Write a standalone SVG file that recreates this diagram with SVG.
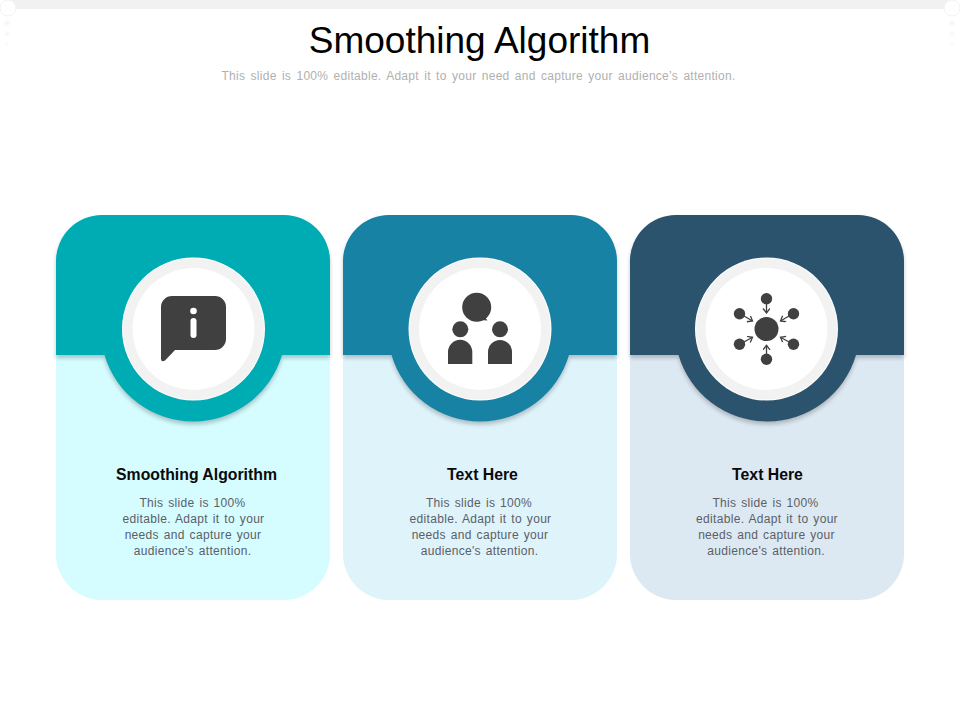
<svg xmlns="http://www.w3.org/2000/svg" width="960" height="720" viewBox="0 0 960 720">
<style>
text{font-family:"Liberation Sans",Arial,sans-serif;text-anchor:middle}
.h{font-size:15.8px;font-weight:700;fill:#0a0a0a}
.b{font-size:12px;fill:#5a6068;word-spacing:1.2px;letter-spacing:.32px}
.ic{fill:#404040}
.ln{fill:none;stroke:#404040;stroke-width:1.3}
.ring{fill:#f2f2f2}
.in{fill:#fff}
.dot{fill:#f5f5f5}
</style>
<defs>
<filter id="sh" x="-20%" y="-20%" width="140%" height="140%"><feGaussianBlur stdDeviation="2"/></filter>
<filter id="soft" x="-50%" y="-50%" width="200%" height="200%"><feGaussianBlur stdDeviation="1"/></filter>
<marker id="ah" markerWidth="7" markerHeight="8" refX="5.500" refY="3.500" orient="auto" markerUnits="userSpaceOnUse"><path d="M1 0 L5.500 3.500 L1 7" fill="none" stroke="#404040" stroke-width="1.300"/></marker>
</defs>
<rect width="960" height="720" fill="#fff"/>
<g id="frame">
<rect x="5" y="0" width="950" height="9" fill="#f1f1f1"/>
<circle cx="8" cy="8" r="8" fill="#fff" stroke="#f3f3f3" stroke-width="1"/>
<circle cx="952" cy="8" r="8" fill="#fff" stroke="#f3f3f3" stroke-width="1"/>
<g filter="url(#soft)">
<circle class="dot" cx="7" cy="23" r="2.500"/><circle class="dot" cx="7" cy="34" r="2"/><circle class="dot" cx="7" cy="44" r="1.500"/>
<circle class="dot" cx="952" cy="23" r="2.500"/><circle class="dot" cx="952" cy="34" r="2"/><circle class="dot" cx="952" cy="44" r="1.500"/>
</g>
</g>
<g id="title">
<text x="479.500" y="53" font-size="37" fill="#000">Smoothing Algorithm</text>
<text x="478.500" y="80" font-size="12" fill="#b0b0b0" word-spacing="1.7" letter-spacing=".28">This slide is 100% editable. Adapt it to your need and capture your audience’s attention.</text>
</g>
<g id="card1">
<rect x="56" y="215" width="274" height="385" rx="46" fill="#d5fcff"/>
<path d="M56 355V261a46 46 0 0 1 46-46H284a46 46 0 0 1 46 46V355H282a92.500 92.500 0 0 1-177.500 0Z" fill="#000" opacity=".22" filter="url(#sh)" transform="translate(0 3)"/>
<path d="M56 355V261a46 46 0 0 1 46-46H284a46 46 0 0 1 46 46V355H282a92.500 92.500 0 0 1-177.500 0Z" fill="#00acb4"/>
<circle class="in" cx="193.500" cy="329" r="71.500"/><circle class="ring" cx="193.500" cy="329" r="70.500"/><circle class="in" cx="193.500" cy="329" r="61"/>
<path class="ic" d="M172 296H215a11 11 0 0 1 11 11V339a11 11 0 0 1-11 11H175L165 360.500Q161 363 161 358V307a11 11 0 0 1 11-11Z"/>
<circle cx="193.500" cy="311" r="3.300" fill="#fff"/>
<rect x="190.500" y="318" width="6" height="20" rx="3" fill="#fff"/>
<text class="h" x="196.500" y="479.500">Smoothing Algorithm</text>
<text class="b" x="192.500" y="507">This slide is 100%</text>
<text class="b" x="193.500" y="523">editable. Adapt it to your</text>
<text class="b" x="193" y="539">needs and capture your</text>
<text class="b" x="192.500" y="555">audience's attention.</text>
</g>
<g id="card2">
<rect x="343" y="215" width="274" height="385" rx="46" fill="#dff3fb"/>
<path d="M343 355V261a46 46 0 0 1 46-46H571a46 46 0 0 1 46 46V355H569a92.500 92.500 0 0 1-177.500 0Z" fill="#000" opacity=".22" filter="url(#sh)" transform="translate(0 3)"/>
<path d="M343 355V261a46 46 0 0 1 46-46H571a46 46 0 0 1 46 46V355H569a92.500 92.500 0 0 1-177.500 0Z" fill="#1782a4"/>
<circle class="in" cx="480" cy="329" r="71.500"/><circle class="ring" cx="480" cy="329" r="70.500"/><circle class="in" cx="480" cy="329" r="61"/>
<circle class="ic" cx="476.700" cy="307.300" r="14.500"/><path class="ic" d="M480 320L487.500 320.500L484 316Z"/>
<circle class="ic" cx="460.300" cy="329.300" r="8"/><circle class="ic" cx="500" cy="329.300" r="8"/>
<path class="ic" d="M448 364V352a12 12 0 0 1 24.300 0V364Z"/><path class="ic" d="M488 364V352a12 12 0 0 1 24 0V364Z"/>
<text class="h" x="482.500" y="479.500">Text Here</text>
<text class="b" x="479" y="507">This slide is 100%</text>
<text class="b" x="480.500" y="523">editable. Adapt it to your</text>
<text class="b" x="480" y="539">needs and capture your</text>
<text class="b" x="479.500" y="555">audience's attention.</text>
</g>
<g id="card3">
<rect x="630" y="215" width="274" height="385" rx="46" fill="#dde9f2"/>
<path d="M630 355V261a46 46 0 0 1 46-46H858a46 46 0 0 1 46 46V355H856a92.500 92.500 0 0 1-177.500 0Z" fill="#000" opacity=".22" filter="url(#sh)" transform="translate(0 3)"/>
<path d="M630 355V261a46 46 0 0 1 46-46H858a46 46 0 0 1 46 46V355H856a92.500 92.500 0 0 1-177.500 0Z" fill="#2b536d"/>
<circle class="in" cx="766.500" cy="329" r="71.500"/><circle class="ring" cx="766.500" cy="329" r="70.500"/><circle class="in" cx="766.500" cy="329" r="61"/>
<circle class="ic" cx="766.500" cy="329" r="12"/>
<circle class="ic" cx="766.500" cy="298.700" r="5.700"/><circle class="ic" cx="739.500" cy="313.700" r="5.700"/><circle class="ic" cx="793.500" cy="313.700" r="5.700"/><circle class="ic" cx="739.500" cy="344.300" r="5.700"/><circle class="ic" cx="793.500" cy="344.300" r="5.700"/><circle class="ic" cx="766.500" cy="359.300" r="5.700"/>
<g id="arrows">
<path class="ln" marker-end="url(#ah)" d="M766.500 303V313"/>
<path class="ln" marker-end="url(#ah)" d="M744 316L752.500 321"/>
<path class="ln" marker-end="url(#ah)" d="M789 316L780.500 321"/>
<path class="ln" marker-end="url(#ah)" d="M744 342L752.500 337.300"/>
<path class="ln" marker-end="url(#ah)" d="M789 342L780.500 337.300"/>
<path class="ln" marker-end="url(#ah)" d="M766.500 355V345.300"/>
</g>
<text class="h" x="767.500" y="479.500">Text Here</text>
<text class="b" x="765.500" y="507">This slide is 100%</text>
<text class="b" x="767" y="523">editable. Adapt it to your</text>
<text class="b" x="766.500" y="539">needs and capture your</text>
<text class="b" x="766" y="555">audience's attention.</text>
</g>
</svg>
